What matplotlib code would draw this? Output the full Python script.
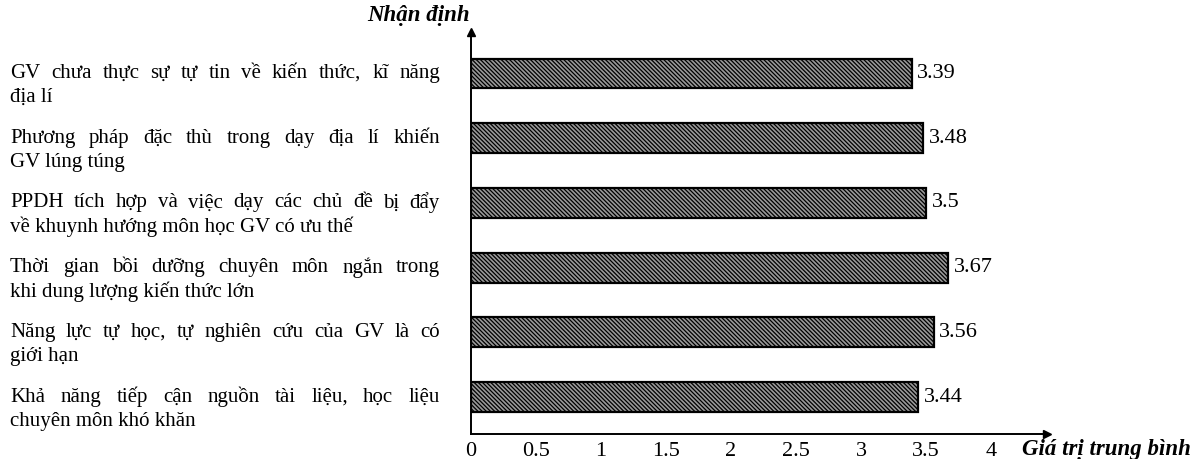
import matplotlib
matplotlib.use("Agg")
import matplotlib.pyplot as plt
import matplotlib.transforms as mtransforms

categories = [
    ["GV chưa thực sự tự tin về kiến thức, kĩ năng", "địa lí"],
    ["Phương pháp đặc thù trong dạy địa lí khiến", "GV lúng túng"],
    ["PPDH tích hợp và việc dạy các chủ đề bị đẩy", "về khuynh hướng môn học GV có ưu thế"],
    ["Thời gian bồi dưỡng chuyên môn ngắn trong", "khi dung lượng kiến thức lớn"],
    ["Năng lực tự học, tự nghiên cứu của GV là có", "giới hạn"],
    ["Khả năng tiếp cận nguồn tài liệu, học liệu", "chuyên môn khó khăn"],
]
values = [3.39, 3.48, 3.5, 3.67, 3.56, 3.44]
value_labels = ["3.39", "3.48", "3.5", "3.67", "3.56", "3.44"]
xticks = [0, 0.5, 1, 1.5, 2, 2.5, 3, 3.5, 4]
xtick_labels = ["0", "0.5", "1", "1.5", "2", "2.5", "3", "3.5", "4"]
y_title = "Nhận định"
x_title = "Giá trị trung bình"

plt.rcParams['font.family'] = ['Liberation Serif', 'DejaVu Serif']
plt.rcParams['hatch.linewidth'] = 0.9
FS = 15
FS_NUM = 16

W, H = 1197, 459
fig = plt.figure(figsize=(W / 100, H / 100), dpi=100)
ax = fig.add_axes([471 / W, (H - 434) / H, (1047 - 471) / W, (434 - 32) / H])

ypos = list(range(len(values)))
ax.barh(ypos, values, height=0.46, color='#999999', edgecolor='black',
        linewidth=1.6, hatch='\\\\\\\\\\\\\\\\')
ax.set_xlim(0, 4.43)
ax.set_ylim(5.57, -0.64)
ax.set_xticks(xticks)
ax.set_xticklabels(xtick_labels, fontsize=FS_NUM)
ax.tick_params(axis='x', length=0, pad=5.5)
ax.set_yticks([])
for s in ['top', 'right']:
    ax.spines[s].set_visible(False)
for s in ['left', 'bottom']:
    ax.spines[s].set_linewidth(1.4)

# arrow heads
ax.plot(1, 0, marker='>', color='k', markersize=6, transform=ax.transAxes, clip_on=False)
ax.plot(0, 1, marker='^', color='k', markersize=6, transform=ax.transAxes, clip_on=False)

# value labels
for y, v, lab in zip(ypos, values, value_labels):
    ax.annotate(lab, (v, y), xytext=(4, 0), textcoords='offset points',
                va='center', ha='left', fontsize=FS_NUM)

# axis titles
fig.text(470 / W, 1 - 16 / H, y_title, ha='right', va='center', fontsize=16.5,
         fontweight='bold', fontstyle='italic')
fig.text(1191 / W, 1 - 449 / H, x_title, ha='right', va='center', fontsize=16.5,
         fontweight='bold', fontstyle='italic')

# category labels (first line justified)
fig.canvas.draw()
renderer = fig.canvas.get_renderer()
trans = mtransforms.blended_transform_factory(fig.transFigure, ax.transData)
left_px, right_px = 10, 440
line_gap = 24  # px
for y, lines in zip(ypos, categories):
    words = lines[0].split(' ')
    texts = [fig.text(0, 0, w, fontsize=FS, transform=trans) for w in words]
    widths = [t.get_window_extent(renderer).width for t in texts]
    gap = (right_px - left_px - sum(widths)) / (len(words) - 1)
    x = left_px
    for t, w in zip(texts, widths):
        t.set_position((x / W, y))
        t.set_va('center')
        x += w + gap
    off = mtransforms.ScaledTranslation(0, -line_gap / 100, fig.dpi_scale_trans)
    fig.text(left_px / W, y, lines[1], fontsize=FS, va='center',
             transform=trans + off)

fig.savefig("out.png", dpi=100)
